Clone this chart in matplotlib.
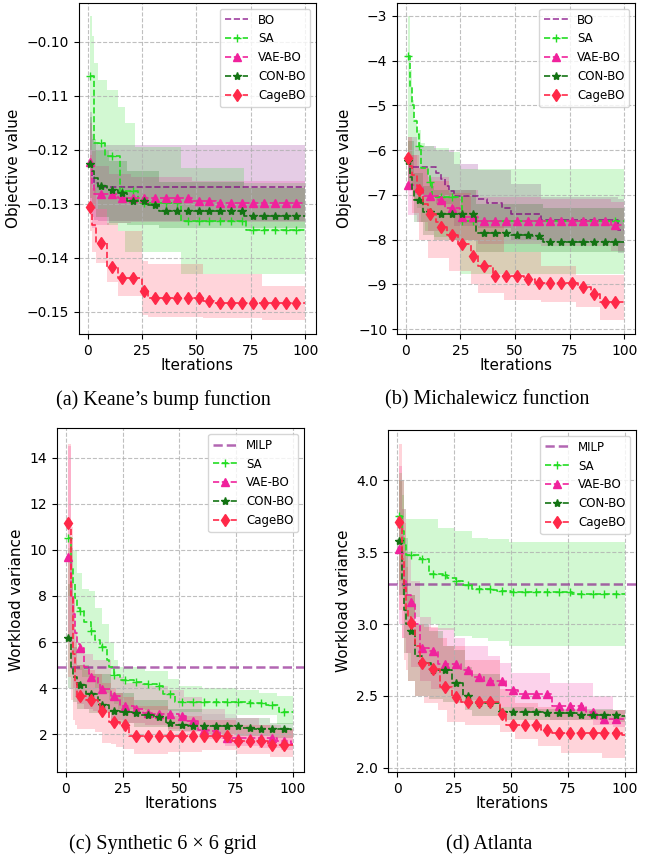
import matplotlib
matplotlib.use('Agg')
import matplotlib.pyplot as plt
import numpy as np

# iterations 1..100, curves are step functions given at their change points
ITERS = np.arange(1, 101)

# ---- (a) Keane's bump function ----
A_BO_X = [1, 2, 3, 5]
A_BO_Y = [-0.1225, -0.1250, -0.1262, -0.1268]
A_BO_BX = [1, 2, 3, 5]
A_BO_LO = [-0.1310, -0.1325, -0.1330, -0.1331]
A_BO_HI = [-0.1130, -0.1170, -0.1185, -0.1191]

A_SA_X = [1, 3, 8, 15, 23, 43, 73]
A_SA_Y = [-0.1063, -0.1187, -0.1212, -0.1277, -0.1298, -0.1331, -0.1349]
A_SA_BX = [1, 2, 3, 5, 9, 14, 17, 22, 43, 72]
A_SA_HI = [-0.0952, -0.0990, -0.1040, -0.1070, -0.1090, -0.1120, -0.1150, -0.1195, -0.1234, -0.1262]
A_SA_LO = [-0.1200, -0.1240, -0.1280, -0.1310, -0.1340, -0.1350, -0.1390, -0.1390, -0.1429, -0.1429]

A_VAE_X = [1, 2, 3, 14, 48, 59]
A_VAE_Y = [-0.1222, -0.1265, -0.1282, -0.1290, -0.1294, -0.1298]
A_VAE_BX = [1, 2, 4, 10, 20, 48]
A_VAE_HI = [-0.1150, -0.1200, -0.1230, -0.1245, -0.1250, -0.1258]
A_VAE_LO = [-0.1320, -0.1345, -0.1340, -0.1335, -0.1333, -0.1333]

A_CON_X = [1, 2, 3, 5, 9, 14, 18, 28, 33, 72]
A_CON_Y = [-0.1226, -0.1240, -0.1252, -0.1267, -0.1275, -0.1280, -0.1295, -0.1302, -0.1313, -0.1322]
A_CON_BX = [1, 2, 4, 10, 18, 33, 72]
A_CON_HI = [-0.1140, -0.1180, -0.1200, -0.1220, -0.1240, -0.1260, -0.1270]
A_CON_LO = [-0.1290, -0.1310, -0.1325, -0.1335, -0.1340, -0.1345, -0.1345]

A_CAGE_X = [1, 2, 4, 9, 14, 25, 28, 53, 58]
A_CAGE_Y = [-0.1306, -0.1340, -0.1373, -0.1417, -0.1437, -0.1462, -0.1475, -0.1480, -0.1483]
A_CAGE_BX = [1, 2, 4, 9, 14, 25, 28, 53, 80]
A_CAGE_HI = [-0.1210, -0.1270, -0.1310, -0.1335, -0.1350, -0.1405, -0.1412, -0.1430, -0.1452]
A_CAGE_LO = [-0.1350, -0.1390, -0.1410, -0.1445, -0.1470, -0.1505, -0.1510, -0.1512, -0.1515]

# ---- (b) Michalewicz function ----
B_BO_X = [1, 2, 14, 16, 18, 20, 22, 33, 37, 44, 48, 62, 97]
B_BO_Y = [-6.28, -6.37, -6.50, -6.65, -6.80, -6.92, -7.02, -7.10, -7.18, -7.30, -7.42, -7.56, -7.78]
B_BO_BX = [1, 5, 14, 22, 33, 48, 62, 97]
B_BO_HI = [-5.70, -5.90, -6.00, -6.30, -6.45, -6.75, -7.05, -7.10]
B_BO_LO = [-6.90, -7.00, -7.20, -7.70, -7.75, -8.00, -8.05, -8.30]

B_SA_X = [1, 2, 3, 4, 5, 6, 7, 10, 11, 12, 26]
B_SA_Y = [-3.90, -4.60, -5.00, -5.35, -5.65, -5.90, -6.40, -6.55, -6.72, -7.05, -7.58]
B_SA_BX = [1, 2, 3, 4, 5, 7, 9, 13, 20, 25]
B_SA_HI = [-3.00, -4.20, -4.87, -5.30, -5.55, -5.84, -5.90, -5.95, -6.05, -6.43]
B_SA_LO = [-6.20, -6.60, -6.80, -7.10, -7.30, -7.60, -7.80, -7.95, -8.00, -8.76]

B_VAE_X = [1, 5, 8, 15, 18, 25, 33, 94]
B_VAE_Y = [-6.78, -6.85, -7.03, -7.12, -7.30, -7.50, -7.58, -7.67]
B_VAE_BX = [1, 5, 10, 20, 33, 62, 94]
B_VAE_HI = [-6.10, -6.40, -6.60, -6.90, -7.05, -7.10, -7.15]
B_VAE_LO = [-7.45, -7.60, -7.80, -8.00, -8.10, -8.15, -8.25]

B_CON_X = [1, 2, 3, 4, 8, 13, 32, 48, 58, 63]
B_CON_Y = [-6.25, -6.60, -6.90, -7.12, -7.39, -7.42, -7.86, -7.90, -7.93, -8.05]
B_CON_BX = [1, 4, 8, 13, 32, 63]
B_CON_HI = [-5.80, -6.50, -6.80, -6.90, -7.20, -7.30]
B_CON_LO = [-6.90, -7.60, -7.90, -8.00, -8.28, -8.28]

B_CAGE_X = [1, 2, 3, 5, 6, 8, 10, 14, 16, 19, 24, 30, 33, 40, 54, 59, 79, 85, 89]
B_CAGE_Y = [-6.17, -6.35, -6.55, -6.80, -6.88, -7.20, -7.42, -7.60, -7.72, -7.89,
            -8.09, -8.37, -8.60, -8.82, -8.87, -8.96, -9.06, -9.22, -9.39]
B_CAGE_BX = [1, 3, 6, 10, 20, 30, 33, 45, 62, 78, 89]
B_CAGE_HI = [-5.70, -6.10, -6.40, -6.70, -6.95, -7.40, -7.70, -8.28, -8.58, -8.80, -8.80]
B_CAGE_LO = [-6.80, -7.40, -8.00, -8.40, -8.70, -9.00, -9.20, -9.36, -9.40, -9.50, -9.80]

# ---- (c) Synthetic 6 x 6 grid ----
C_MILP = 4.9
C_SA_X = [1, 2, 3, 4, 5, 6, 8, 11, 13, 15, 16, 18, 19, 21, 24, 30, 34, 40, 43, 48, 81, 88, 94]
C_SA_Y = [10.5, 9.2, 8.5, 7.9, 7.5, 7.35, 6.85, 6.5, 6.1, 5.9, 5.8, 5.2, 4.9, 4.58,
          4.33, 4.26, 4.18, 4.07, 3.74, 3.39, 3.36, 3.26, 2.97]
C_SA_BX = [1, 3, 5, 7, 10, 13, 16, 19, 21, 23, 35, 45, 50, 60, 75, 85, 93]
C_SA_HI = [10.1, 10.0, 9.0, 8.3, 8.2, 7.5, 6.8, 6.0, 5.2, 4.9, 4.75, 4.4, 4.1, 3.98, 3.9, 3.78, 3.65]
C_SA_LO = [8.0, 5.5, 4.8, 4.5, 4.3, 4.0, 3.8, 3.5, 3.3, 3.1, 3.05, 3.0, 2.95, 2.88, 2.83, 2.82, 2.45]

C_VAE_X = [1, 2, 3, 4, 5, 6, 8, 10, 11, 14, 15, 20, 24, 30, 34, 38, 50, 53, 58, 63, 68, 93, 99]
C_VAE_Y = [9.71, 8.0, 7.2, 6.4, 5.9, 5.73, 4.9, 4.6, 4.48, 4.2, 3.96, 3.67, 3.23, 3.09,
           2.92, 2.87, 2.8, 2.55, 2.19, 2.12, 1.83, 1.69, 1.55]
C_VAE_BX = [1, 2, 3, 4, 5, 8, 12, 20, 25, 35, 45, 52, 60, 70, 85, 95]
C_VAE_HI = [14.5, 10.5, 8.0, 6.5, 5.6, 5.5, 5.2, 4.5, 4.2, 4.1, 3.9, 3.6, 3.1, 2.7, 2.4, 2.2]
C_VAE_LO = [6.0, 5.0, 4.0, 3.6, 3.3, 3.1, 3.0, 2.6, 2.5, 2.4, 2.2, 2.1, 1.8, 1.5, 1.4, 1.3]

C_CON_X = [1, 2, 3, 5, 6, 9, 14, 15, 19, 24, 29, 33, 39, 44, 48, 54, 78, 83, 99]
C_CON_Y = [6.17, 4.9, 4.5, 4.2, 4.12, 3.75, 3.5, 3.28, 3.02, 2.95, 2.92, 2.82, 2.73,
           2.48, 2.4, 2.37, 2.27, 2.22, 2.15]
C_CON_BX = [1, 3, 5, 10, 20, 30, 45, 60, 75, 90]
C_CON_HI = [8.5, 5.8, 5.0, 4.6, 3.8, 3.5, 3.1, 2.85, 2.7, 2.5]
C_CON_LO = [4.0, 3.4, 3.1, 2.9, 2.5, 2.3, 2.15, 2.0, 1.9, 1.85]

C_CAGE_X = [1, 2, 3, 4, 5, 6, 9, 14, 15, 19, 24, 28, 73, 89]
C_CAGE_Y = [11.18, 8.0, 5.5, 4.2, 3.7, 3.64, 3.49, 3.3, 3.02, 2.51, 2.41, 1.9, 1.69, 1.51]
C_CAGE_BX = [1, 2, 3, 4, 5, 8, 13, 16, 20, 22, 25, 30, 45, 60, 75, 90]
C_CAGE_HI = [14.6, 11.0, 8.0, 6.0, 5.0, 4.8, 4.6, 4.2, 4.0, 3.8, 3.6, 3.2, 2.8, 2.6, 2.4, 2.2]
C_CAGE_LO = [4.5, 3.5, 2.6, 2.4, 2.2, 2.2, 2.1, 1.6, 1.55, 1.45, 1.35, 1.15, 1.2, 1.3, 1.15, 1.0]

# ---- (d) Atlanta ----
D_MILP = 3.28
D_SA_X = [1, 2, 3, 4, 10, 14, 20, 22, 26, 29, 33, 42, 44, 50, 77]
D_SA_Y = [3.75, 3.65, 3.55, 3.48, 3.45, 3.35, 3.34, 3.32, 3.30, 3.27, 3.245, 3.24, 3.23, 3.22, 3.21]
D_SA_BX = [1, 2, 3, 4, 10, 18, 25, 33, 40, 49]
D_SA_HI = [4.05, 3.9, 3.8, 3.73, 3.73, 3.67, 3.65, 3.6, 3.59, 3.57]
D_SA_LO = [3.3, 3.2, 3.1, 3.05, 3.0, 2.96, 2.92, 2.9, 2.88, 2.85]

D_VAE_X = [1, 2, 3, 4, 6, 8, 10, 14, 18, 28, 33, 38, 48, 53, 68, 83, 88]
D_VAE_Y = [3.52, 3.4, 3.3, 3.2, 3.15, 3.0, 2.83, 2.81, 2.72, 2.68, 2.63, 2.6, 2.54, 2.51, 2.43, 2.39, 2.34]
D_VAE_BX = [1, 2, 4, 6, 10, 15, 25, 30, 40, 45, 50, 67, 86, 95]
D_VAE_HI = [4.1, 3.8, 3.5, 3.3, 3.05, 2.97, 2.9, 2.85, 2.78, 2.73, 2.66, 2.59, 2.5, 2.4]
D_VAE_LO = [3.0, 2.9, 2.8, 2.7, 2.6, 2.55, 2.5, 2.47, 2.45, 2.42, 2.38, 2.33, 2.3, 2.28]

D_CON_X = [1, 2, 3, 4, 6, 8, 11, 15, 24, 29, 32, 45, 64, 79, 99]
D_CON_Y = [3.58, 3.3, 3.1, 3.0, 2.95, 2.78, 2.73, 2.68, 2.59, 2.50, 2.45, 2.39, 2.38, 2.37, 2.36]
D_CON_BX = [1, 3, 5, 8, 14, 20, 25, 30, 33, 45, 60, 95]
D_CON_HI = [4.0, 3.6, 3.2, 3.0, 2.95, 2.85, 2.82, 2.7, 2.65, 2.42, 2.41, 2.4]
D_CON_LO = [3.2, 2.8, 2.6, 2.5, 2.48, 2.46, 2.45, 2.4, 2.36, 2.33, 2.33, 2.32]

D_CAGE_X = [1, 2, 3, 4, 5, 6, 8, 10, 14, 19, 24, 28, 45, 48, 63, 68, 99]
D_CAGE_Y = [3.71, 3.45, 3.25, 3.1, 3.05, 3.01, 2.85, 2.73, 2.69, 2.56, 2.49, 2.455,
            2.375, 2.30, 2.265, 2.245, 2.23]
D_CAGE_BX = [1, 2, 3, 4, 5, 8, 12, 18, 22, 30, 45, 52, 62, 72, 90]
D_CAGE_HI = [4.25, 4.0, 3.7, 3.4, 3.2, 3.0, 2.98, 2.9, 2.85, 2.75, 2.55, 2.45, 2.42, 2.4, 2.4]
D_CAGE_LO = [3.1, 2.9, 2.75, 2.68, 2.6, 2.5, 2.45, 2.4, 2.32, 2.3, 2.25, 2.2, 2.15, 2.1, 2.07]

# styles
C_BO = 'purple'
C_SA = '#22dd22'
C_VAE = '#f0229c'
C_CON = '#137313'
C_CAGE = '#ff2848'


def expand(knots, vals):
    # value of the step curve at every iteration
    idx = np.searchsorted(knots, ITERS, side='right') - 1
    return np.asarray(vals)[idx]


def draw_method(ax, x, y, bx, lo, hi, color, marker, ms, label, lw=1.2, alpha=1.0):
    ax.fill_between(ITERS, expand(bx, lo), expand(bx, hi), step='post',
                    color=color, alpha=0.2, linewidth=0)
    ax.plot(ITERS, expand(x, y), linestyle='--', drawstyle='steps-post', color=color,
            marker=marker, markersize=ms, markevery=5, lw=lw, alpha=alpha, label=label)


fig = plt.figure(figsize=(6.5, 8.6), dpi=100)
axa = fig.add_axes([0.1215, 0.6116, 0.3645, 0.385])
axb = fig.add_axes([0.6108, 0.6116, 0.3662, 0.385])
axc = fig.add_axes([0.0877, 0.1023, 0.3800, 0.4000])
axd = fig.add_axes([0.5970, 0.1023, 0.3815, 0.3977])

# (a)
draw_method(axa, A_BO_X, A_BO_Y, A_BO_BX, A_BO_LO, A_BO_HI, C_BO, None, 0, 'BO', alpha=0.75)
draw_method(axa, A_SA_X, A_SA_Y, A_SA_BX, A_SA_LO, A_SA_HI, C_SA, '+', 6, 'SA')
draw_method(axa, A_VAE_X, A_VAE_Y, A_VAE_BX, A_VAE_LO, A_VAE_HI, C_VAE, '^', 6, 'VAE-BO')
draw_method(axa, A_CON_X, A_CON_Y, A_CON_BX, A_CON_LO, A_CON_HI, C_CON, '*', 6, 'CON-BO')
draw_method(axa, A_CAGE_X, A_CAGE_Y, A_CAGE_BX, A_CAGE_LO, A_CAGE_HI, C_CAGE, 'd', 6, 'CageBO')
axa.set_ylim(-0.1541, -0.0928)
axa.set_yticks([-0.15, -0.14, -0.13, -0.12, -0.11, -0.10])
axa.set_ylabel('Objective value', fontsize=11)

# (b)
draw_method(axb, B_BO_X, B_BO_Y, B_BO_BX, B_BO_LO, B_BO_HI, C_BO, None, 0, 'BO', alpha=0.75)
draw_method(axb, B_SA_X, B_SA_Y, B_SA_BX, B_SA_LO, B_SA_HI, C_SA, '+', 6, 'SA')
draw_method(axb, B_VAE_X, B_VAE_Y, B_VAE_BX, B_VAE_LO, B_VAE_HI, C_VAE, '^', 6, 'VAE-BO')
draw_method(axb, B_CON_X, B_CON_Y, B_CON_BX, B_CON_LO, B_CON_HI, C_CON, '*', 6, 'CON-BO')
draw_method(axb, B_CAGE_X, B_CAGE_Y, B_CAGE_BX, B_CAGE_LO, B_CAGE_HI, C_CAGE, 'd', 6, 'CageBO')
axb.set_ylim(-10.11, -2.71)
axb.set_yticks([-10, -9, -8, -7, -6, -5, -4, -3])
axb.set_ylabel('Objective value', fontsize=11)

# (c)
axc.axhline(C_MILP, color=C_BO, linestyle='--', lw=1.8, alpha=0.6, label='MILP')
draw_method(axc, C_SA_X, C_SA_Y, C_SA_BX, C_SA_LO, C_SA_HI, C_SA, '+', 6, 'SA')
draw_method(axc, C_VAE_X, C_VAE_Y, C_VAE_BX, C_VAE_LO, C_VAE_HI, C_VAE, '^', 6, 'VAE-BO')
draw_method(axc, C_CON_X, C_CON_Y, C_CON_BX, C_CON_LO, C_CON_HI, C_CON, '*', 6, 'CON-BO')
draw_method(axc, C_CAGE_X, C_CAGE_Y, C_CAGE_BX, C_CAGE_LO, C_CAGE_HI, C_CAGE, 'd', 6, 'CageBO')
axc.set_ylim(0.35, 15.3)
axc.set_yticks([2, 4, 6, 8, 10, 12, 14])
axc.set_ylabel('Workload variance', fontsize=11)

# (d)
axd.axhline(D_MILP, color=C_BO, linestyle='--', lw=1.8, alpha=0.6, label='MILP')
draw_method(axd, D_SA_X, D_SA_Y, D_SA_BX, D_SA_LO, D_SA_HI, C_SA, '+', 6, 'SA')
draw_method(axd, D_VAE_X, D_VAE_Y, D_VAE_BX, D_VAE_LO, D_VAE_HI, C_VAE, '^', 6, 'VAE-BO')
draw_method(axd, D_CON_X, D_CON_Y, D_CON_BX, D_CON_LO, D_CON_HI, C_CON, '*', 6, 'CON-BO')
draw_method(axd, D_CAGE_X, D_CAGE_Y, D_CAGE_BX, D_CAGE_LO, D_CAGE_HI, C_CAGE, 'd', 6, 'CageBO')
axd.set_ylim(1.97, 4.35)
axd.set_yticks([2.0, 2.5, 3.0, 3.5, 4.0])
axd.set_ylabel('Workload variance', fontsize=11)

for ax in (axa, axb, axc, axd):
    ax.set_xticks([0, 25, 50, 75, 100])
    ax.set_xlabel('Iterations', fontsize=11, labelpad=0)
    ax.tick_params(labelsize=10)
    ax.grid(True, linestyle='--', color='#b0b0b0', linewidth=0.8, alpha=0.8)
    ax.legend(loc='upper right', fontsize=8.5)

serif = ['Liberation Serif', 'DejaVu Serif']
fig.text(0.251, 0.535, '(a) Keane\u2019s bump function', ha='center', va='center', fontsize=14.5, family=serif)
fig.text(0.750, 0.535, '(b) Michalewicz function', ha='center', va='center', fontsize=14.5, family=serif)
fig.text(0.250, 0.018, '(c) Synthetic 6 \u00d7 6 grid', ha='center', va='center', fontsize=14.5, family=serif)
fig.text(0.752, 0.018, '(d) Atlanta', ha='center', va='center', fontsize=14.5, family=serif)

fig.savefig('out.png', dpi=100)
